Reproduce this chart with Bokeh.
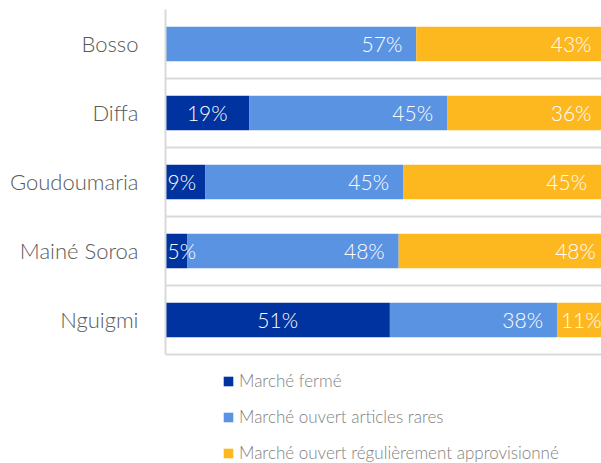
from bokeh.plotting import figure
from bokeh.models import ColumnDataSource, FixedTicker, Legend, LegendItem, Range1d
from bokeh.core.properties import value
from bokeh.embed import file_html
from bokeh.resources import INLINE

categories = ["Bosso", "Diffa", "Goudoumaria", "Mainé Soroa", "Nguigmi"]
ferme = [0, 19, 9, 5, 51]
rares = [57, 45, 45, 48, 38]
appro = [43, 36, 45, 48, 11]
series_names = ["Marché fermé", "Marché ouvert articles rares",
                "Marché ouvert régulièrement approvisionné"]
colors = ["#0033A0", "#5B93E3", "#FDB71F"]

FONT = "Lato Light, Lato"
n = len(categories)
ypos = list(range(n))

p = figure(width=601, height=463, output_backend="svg", toolbar_location=None,
           x_range=Range1d(0, 99.1), y_range=Range1d(n - 0.5 + 1.58, -0.5),
           min_border_left=165, min_border_right=0, min_border_top=9,
           min_border_bottom=0)
p.outline_line_color = None
p.background_fill_color = "white"
p.border_fill_color = "white"
p.xaxis.visible = False
p.xgrid.visible = False

p.ygrid.ticker = FixedTicker(ticks=[i - 0.5 for i in range(n + 1)])
p.ygrid.grid_line_color = "#D9D9D9"
p.ygrid.grid_line_width = 2

p.yaxis.ticker = FixedTicker(ticks=ypos)
p.yaxis.bounds = (-0.5, n - 0.5)
p.yaxis.major_label_overrides = {i: c for i, c in enumerate(categories)}
p.yaxis.major_tick_line_color = None
p.yaxis.minor_tick_line_color = None
p.yaxis.axis_line_color = "#D9D9D9"
p.yaxis.axis_line_width = 2
p.yaxis.major_label_standoff = 21
p.yaxis.major_label_text_font = FONT
p.yaxis.major_label_text_font_size = "22px"
p.yaxis.major_label_text_color = "#595959"

series = [ferme, rares, appro]
left = [0] * n
renderers = []
groups = {"center": ([], [], []), "left": ([], [], []), "right": ([], [], [])}
for k, vals in enumerate(series):
    right = [l + v for l, v in zip(left, vals)]
    src = ColumnDataSource(dict(y=ypos, left=left, right=right))
    r = p.hbar(y="y", left="left", right="right", height=0.5, source=src,
               fill_color=colors[k], line_color=None)
    renderers.append(r)
    for i in range(n):
        if vals[i] <= 0:
            continue
        if k == 0:
            align = "left" if vals[i] < 10 else "center"
        else:
            align = "center" if vals[i] < 15 else "right"
        if align == "left":
            x = left[i]
        elif align == "center":
            x = (left[i] + right[i]) / 2
        else:
            x = right[i]
        g = groups[align]
        g[0].append(x)
        g[1].append(ypos[i])
        g[2].append(f"{vals[i]}%")
    left = right

for align, (gx, gy, gt) in groups.items():
    if not gx:
        continue
    offset = {"left": 2, "center": 0, "right": -14}[align]
    p.text(x=gx, y=gy, text=gt, text_align=align, x_offset=offset,
           text_baseline="middle", text_color="white",
           text_font=value(FONT), text_font_size="21px")

legend = Legend(items=[LegendItem(label=series_names[k], renderers=[renderers[k]])
                       for k in range(3)],
                orientation="vertical", location=(57, 0),
                glyph_width=12, glyph_height=12, label_height=20,
                spacing=15, padding=0, margin=0,
                label_text_font=FONT, label_text_font_size="17px",
                label_text_color="#7F7F7F", label_standoff=5,
                border_line_color=None, background_fill_alpha=0)
p.add_layout(legend, "center")

open("out.html", "w").write(file_html(p, INLINE))
